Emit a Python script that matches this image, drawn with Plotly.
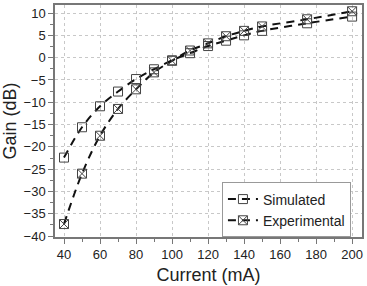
import plotly.graph_objects as go

current = [40, 50, 60, 70, 80, 90, 100, 110, 120, 130, 140, 150, 175, 200]
simulated = [-22.4, -15.6, -10.9, -7.6, -4.8, -2.6, -0.6, 1.0, 2.6, 3.8, 5.0, 6.0, 7.7, 9.2]
experimental = [-37.3, -26.0, -17.5, -11.5, -7.1, -3.3, -0.7, 1.6, 3.2, 4.8, 6.0, 7.0, 8.6, 10.4]

FONT = "Liberation Sans, Arial"

fig = go.Figure()
fig.add_trace(go.Scatter(
    x=current, y=simulated, name="Simulated", mode="lines+markers",
    line=dict(color="#111", width=2, dash="8px,6px", shape="spline"),
    marker=dict(symbol="square-open", size=9, color="#444", line=dict(width=1))))
fig.add_trace(go.Scatter(
    x=current, y=experimental, name="Experimental", mode="lines+markers",
    line=dict(color="#111", width=2, dash="8px,6px", shape="spline"),
    marker=dict(symbol="square-x-open", size=9, color="#444", line=dict(width=1))))

axis_common = dict(
    showline=True, linecolor="#777", linewidth=1.5, mirror=True,
    ticks="outside", ticklen=5, tickcolor="#777", tickwidth=1,
    showgrid=True, gridcolor="#c8c8c8", griddash="dot", gridwidth=1,
    zeroline=False, tickfont=dict(family=FONT, size=13, color="#222"),
)
fig.update_xaxes(range=[35, 205.5], dtick=20, tick0=40,
                 minor=dict(ticks="outside", ticklen=3, dtick=10, tick0=40, tickcolor="#777", showgrid=False),
                 title=dict(text="Current (mA)", font=dict(family=FONT, size=18, color="#222"), standoff=7),
                 **axis_common)
fig.update_yaxes(range=[-40.2, 11.8], dtick=5, tick0=0,
                 minor=dict(ticks="outside", ticklen=3, dtick=2.5, tick0=0, tickcolor="#777", showgrid=False),
                 title=dict(text="Gain (dB)", font=dict(family=FONT, size=18, color="#222"), standoff=5),
                 **axis_common)

fig.update_layout(
    width=367, height=286,
    margin=dict(l=55, r=3, t=5, b=49),
    plot_bgcolor="white", paper_bgcolor="white",
    showlegend=True,
    legend=dict(x=0.964, y=0.235, xanchor="right", yanchor="top",
                bordercolor="#999", borderwidth=1, bgcolor="white",
                font=dict(family=FONT, size=14, color="#222"),
                tracegroupgap=0, itemwidth=30),
)
fig.write_html("out.html")
